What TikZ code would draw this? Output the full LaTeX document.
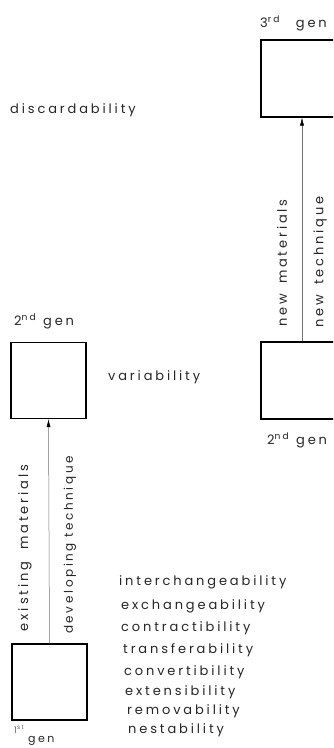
\documentclass[tikz,border=0pt]{standalone}
\usepackage{fontspec}
\setmainfont{Poppins}[LetterSpace=22]
\usetikzlibrary{arrows.meta}
\begin{document}
\begin{tikzpicture}[x=1pt,y=-1pt,
  genbox/.style={draw=black,line width=1.1pt,minimum width=75pt,minimum height=76pt,inner sep=0pt},
  widebox/.style={draw=black,line width=1.1pt,minimum width=82pt,minimum height=77pt,inner sep=0pt},
  lbl/.style={inner sep=0pt,font=\fontsize{13}{15}\selectfont,text=black!85},
  vlbl/.style={lbl,rotate=90},
  devarrow/.style={draw=black!55,line width=0.5pt,-{Latex[length=8pt,width=4pt,black]}},
  sup/.style={lbl}
]
\useasboundingbox (0,0) rectangle (333,748);
\clip (0,0) rectangle (333,748);
\fill[white] (0,0) rectangle (333,748);

% boxes
\node[genbox] (g1) at (49.5,682) {};
\node[genbox] (g2l) at (48.5,380.5) {};
\node[widebox] (g2r) at (302,380.5) {};
\node[widebox] (g3) at (302,78.5) {};

% arrows
\draw[devarrow] (g1.north) -- (g2l.south);
\draw[devarrow] (g2r.north) -- (g3.south);

% generation labels
\node[sup,anchor=base west] (t3) at (260,27) {3\textsuperscript{rd}\hspace{16pt}gen};
\node[sup,anchor=base west] (t2l) at (14,325) {2\textsuperscript{nd}\hspace{7pt}gen};
\node[sup,anchor=base west] (t2r) at (267,444) {2\textsuperscript{nd}\hspace{7pt}gen};
\node[sup,anchor=base west,text=black!60] (t1) at (14,733) {\fontsize{9}{10}\selectfont 1\textsuperscript{st}};
\node[sup,anchor=base west] (t1g) at (28,742) {\fontsize{11}{12}\selectfont gen};

% arrow labels
\node[vlbl] (em) at (25,548) {existing\hspace{12pt}materials};
\node[vlbl,font=\fontsize{12}{14}\selectfont] (dt) at (70,545) {developing\hspace{5pt}technique};
\node[vlbl] (nm) at (282,263) {new\hspace{10pt}materials};
\node[vlbl] (nt) at (320,262) {new\hspace{10pt}technique};

% properties
\node[lbl,anchor=west] (disc) at (10,110) {discardability};
\node[lbl,anchor=west] (var) at (108,377) {variability};
\node[lbl,anchor=west] (p1) at (119,582) {interchangeability};
\node[lbl,anchor=west] (p2) at (121,606) {exchangeability};
\node[lbl,anchor=west] (p3) at (121,628) {contractibility};
\node[lbl,anchor=west] (p4) at (123,650) {transferability};
\node[lbl,anchor=west] (p5) at (124,672) {convertibility};
\node[lbl,anchor=west] (p6) at (125,692) {extensibility};
\node[lbl,anchor=west] (p7) at (127,711) {removability};
\node[lbl,anchor=west] (p8) at (128,730) {nestability};
\end{tikzpicture}
\end{document}
